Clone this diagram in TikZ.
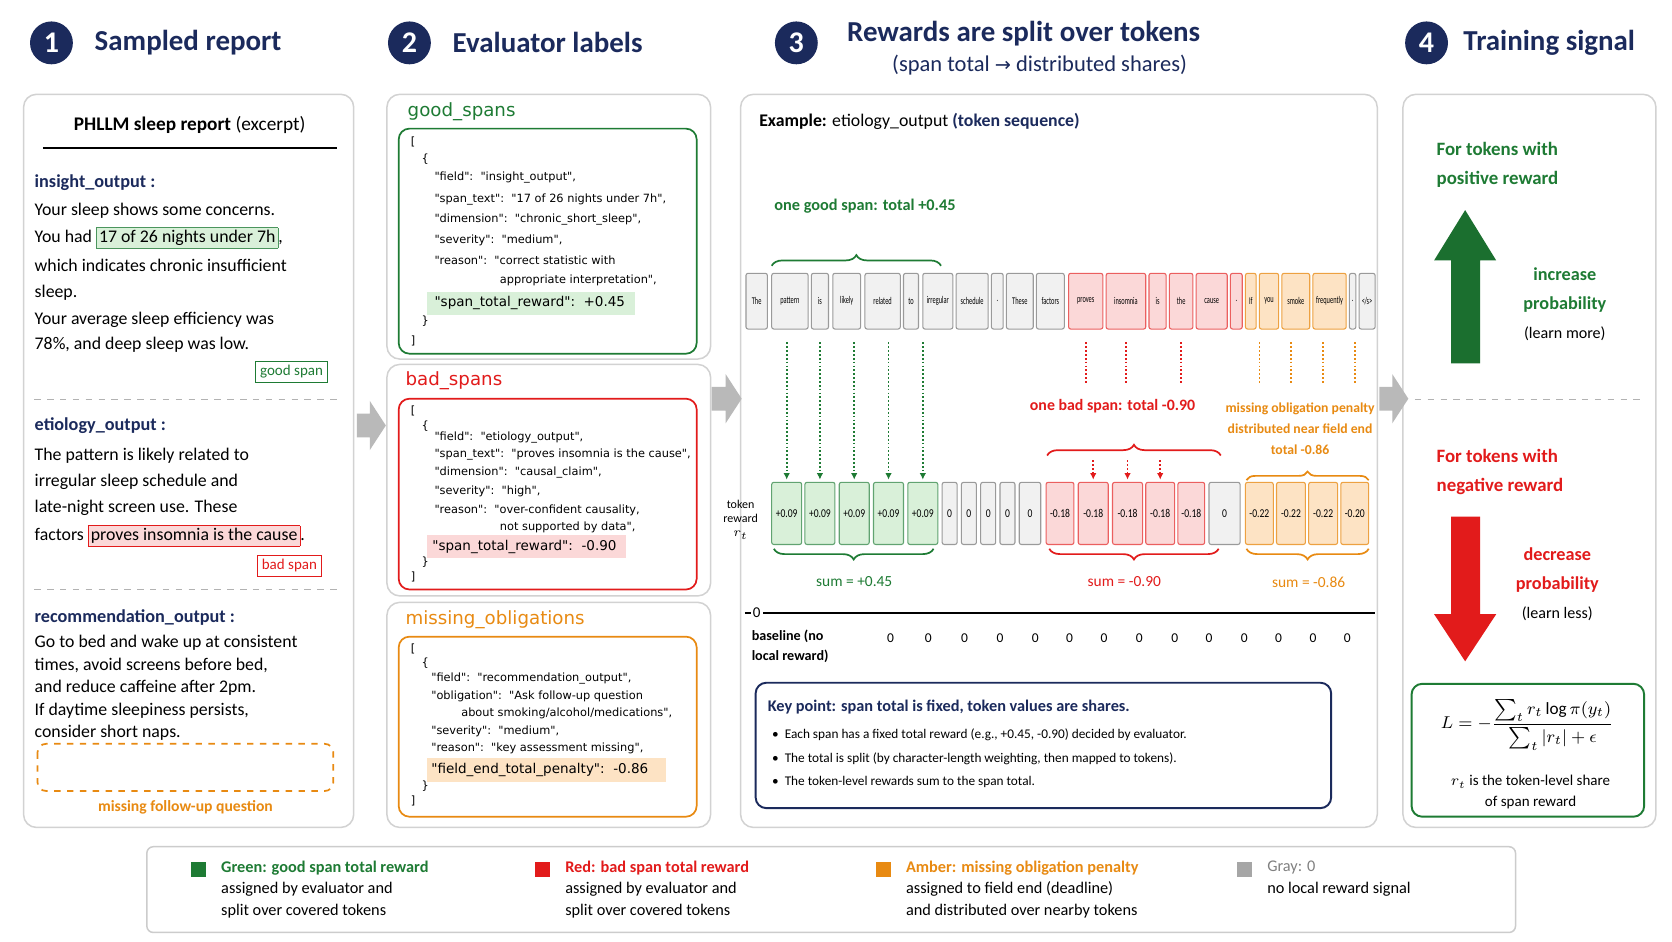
\documentclass[tikz,border=0pt]{standalone}
\usepackage{fontspec}
\setmainfont{Carlito}
\newfontfamily\jsonfont{DejaVu Sans}
\usetikzlibrary{decorations.pathreplacing,arrows.meta}
\definecolor{navy}{HTML}{1B2A5C}
\definecolor{gdk}{HTML}{1E7B34}
\definecolor{gfill}{HTML}{D9F0D9}
\definecolor{rdk}{HTML}{E21B1B}
\definecolor{rfill}{HTML}{FBD8D8}
\definecolor{odk}{HTML}{E88A12}
\definecolor{ofill}{HTML}{FDE3C4}
\definecolor{gryb}{HTML}{9A9A9A}
\definecolor{gryf}{HTML}{F1F1F1}
\setlength{\fboxsep}{1pt}
\begin{document}
\begin{tikzpicture}[x=0.5pt,y=-0.5pt,
 panel/.style={draw=gray!35,rounded corners=6pt,line width=0.7pt,fill=white},
 num/.style={circle,fill=navy,text=white,font=\fontsize{14}{14}\selectfont\bfseries,minimum size=20pt,inner sep=0},
 hdr/.style={anchor=west,inner sep=0,text=navy,font=\fontsize{13.5}{15}\selectfont\bfseries},
 body/.style={anchor=west,inner sep=0,font=\fontsize{8.3}{10}\selectfont},
 lab/.style={anchor=west,inner sep=0,text=navy,font=\fontsize{8.5}{10}\selectfont\bfseries},
 json/.style={anchor=west,inner sep=0,font=\jsonfont\fontsize{5.3}{6}\selectfont},
 jt/.style={anchor=west,inner sep=0,font=\jsonfont\fontsize{8.5}{10}\selectfont},
 tok/.style={draw,rounded corners=1pt,font=\fontsize{4.8}{5}\selectfont,inner sep=0,line width=0.5pt},
 tg/.style={draw=gryb,fill=gryf},
 tr/.style={draw=rdk!70,fill=rfill},
 to/.style={draw=odk!80,fill=ofill},
 tgr/.style={draw=gdk!70,fill=gfill},
 small/.style={inner sep=0,font=\fontsize{6.3}{7.5}\selectfont},
 mid/.style={inner sep=0,font=\fontsize{7.2}{8.5}\selectfont},
 brc/.style={decorate,decoration={brace,amplitude=5pt},line width=0.8pt},
 gar/.style={fill=gray!55,draw=none},
]
\useasboundingbox (0,0) rectangle (1560,878);
\fill[white] (0,0) rectangle (1560,878);
% headers
\node[num] (n1) at (48,40) {1}; \node[hdr] (h1) at (88,40) {Sampled report};
\node[num] (n2) at (382,40) {2}; \node[hdr] (h2) at (422,40) {Evaluator labels};
\node[num] (n3) at (743,40) {3}; \node[hdr] (h3) at (790,31) {Rewards are split over tokens};
\node[inner sep=0,text=navy,font=\fontsize{10.5}{12}\selectfont] (h3b) at (970,61) {(span total {\fontspec{DejaVu Sans}\fontsize{9}{10}\selectfont→} distributed shares)};
\node[num] (n4) at (1331,40) {4}; \node[hdr] (h4) at (1365,40) {Training signal};
% panels
\draw[panel] (22,88) rectangle (330,772);
\draw[panel] (361,88) rectangle (663,335);
\draw[panel] (361,340) rectangle (663,556);
\draw[panel] (361,562) rectangle (663,772);
\draw[panel] (691,88) rectangle (1285,772);
\draw[panel] (1309,88) rectangle (1545,772);
% big gray arrows
\fill[gar] (333,386)--(345,386)--(345,374)--(360,397)--(345,420)--(345,408)--(333,408)--cycle;
\fill[gar] (664,361)--(677,361)--(677,349)--(692,372)--(677,395)--(677,383)--(664,383)--cycle;
\fill[gar] (1287,361)--(1299,361)--(1299,349)--(1314,372)--(1299,395)--(1299,383)--(1287,383)--cycle;
% panel 1
\node[inner sep=0,font=\fontsize{9}{10}\selectfont] (p1t) at (177,117) {\textbf{PHLLM sleep report} (excerpt)};
\draw[line width=0.7pt] (40,138) -- (314,138);
\node[lab] (l1) at (32,170) {insight\_output :};
\node[body] (b1) at (32,197) {Your sleep shows some concerns.};
\node[body] (b2) at (32,222) {You had \fcolorbox{gdk!80}{gfill}{17 of 26 nights under 7h},};
\node[body] (b3) at (32,248) {which indicates chronic insufficient};
\node[body] (b4) at (32,273) {sleep.};
\node[body] (b5) at (32,298) {Your average sleep efficiency was};
\node[body] (b6) at (32,322) {78\%, and deep sleep was low.};
\node[draw=gdk,text=gdk,inner sep=2pt,font=\fontsize{7}{8}\selectfont] (gs) at (272,347) {good span};
\draw[gray!60,dashed] (32,373) -- (318,373);
\node[lab] (l2) at (32,397) {etiology\_output :};
\node[body] (b7) at (32,425) {The pattern is likely related to};
\node[body] (b8) at (32,450) {irregular sleep schedule and};
\node[body] (b9) at (32,474) {late-night screen use. These};
\node[body] (b10) at (32,500) {factors \fcolorbox{rdk}{rfill}{proves insomnia is the cause}.};
\node[draw=rdk,text=rdk,inner sep=2pt,font=\fontsize{7}{8}\selectfont] (bs) at (270,528) {bad span};
\draw[gray!60,dashed] (32,550) -- (318,550);
\node[lab] (l3) at (32,576) {recommendation\_output :};
\node[body] (b11) at (32,600) {Go to bed and wake up at consistent};
\node[body] (b12) at (32,621) {times, avoid screens before bed,};
\node[body] (b13) at (32,642) {and reduce caffeine after 2pm.};
\node[body] (b14) at (32,663) {If daytime sleepiness persists,};
\node[body] (b15) at (32,684) {consider short naps.};
\draw[odk,dashed,rounded corners=4pt,line width=0.8pt] (35,694) rectangle (311,738);
\node[inner sep=0,text=odk,font=\fontsize{7.3}{8}\selectfont\bfseries] (mf) at (173,753) {missing follow-up question};
% panel 2
\node[jt,text=gdk] (gt) at (380,104) {good\_spans};
\node[jt,text=rdk] (rt) at (378,355) {bad\_spans};
\node[jt,text=odk] (ot) at (378,578) {missing\_obligations};
\draw[gdk,rounded corners=5pt,line width=0.8pt] (372,120) rectangle (650,330);
\draw[rdk,rounded corners=5pt,line width=0.8pt] (372,372) rectangle (650,550);
\draw[odk,rounded corners=5pt,line width=0.8pt] (372,594) rectangle (650,762);
\fill[gfill] (398,272) rectangle (592,294);
\fill[rfill] (398,499) rectangle (584,521);
\fill[ofill] (398,707) rectangle (621,730);
\foreach \x/\y/\t [count=\i] in {
 383/132/{[},393/148/{\{},405/166/{"field":\ \ "insight\_output",},
 405/186/{"span\_text":\ \ "17 of 26 nights under 7h",},
 405/205/{"dimension":\ \ "chronic\_short\_sleep",},
 405/224/{"severity":\ \ "medium",},
 405/243/{"reason":\ \ "correct statistic with},
 466/262/{appropriate interpretation",},
 393/300/{\}},383/318/{]},
 383/383/{[},393/398/{\{},405/408/{"field":\ \ "etiology\_output",},
 405/424/{"span\_text":\ \ "proves insomnia is the cause",},
 405/441/{"dimension":\ \ "causal\_claim",},
 405/458/{"severity":\ \ "high",},
 405/476/{"reason":\ \ "over-confident causality,},
 466/492/{not supported by data",},
 393/524/{\}},383/538/{]},
 383/605/{[},393/619/{\{},402/633/{"field":\ \ "recommendation\_output",},
 402/650/{"obligation":\ \ "Ask follow-up question},
 430/666/{about smoking/alcohol/medications",},
 402/682/{"severity":\ \ "medium",},
 402/698/{"reason":\ \ "key assessment missing",},
 393/733/{\}},383/747/{]}}
 \node[json] (j\i) at (\x,\y) {\t};
\node[json,font=\jsonfont\fontsize{6.3}{7}\selectfont] (jg) at (405,283) {"span\_total\_reward":\ \ +0.45};
\node[json,font=\jsonfont\fontsize{6.3}{7}\selectfont] (jr) at (403,510) {"span\_total\_reward":\ \ -0.90};
\node[json,font=\jsonfont\fontsize{6.3}{7}\selectfont] (jo) at (402,718) {"field\_end\_total\_penalty":\ \ -0.86};
% panel 3
\node[anchor=west,inner sep=0,font=\fontsize{8.3}{10}\selectfont] (ex) at (708,113) {\textbf{Example:} etiology\_output \textcolor{navy}{\textbf{(token sequence)}}};
\node[mid,text=gdk,font=\fontsize{7.6}{9}\selectfont\bfseries] (gsl) at (807,192) {one good span: total +0.45};
\foreach \a/\b/\s/\t [count=\i] in {
 696/716/tg/The,720/754/tg/pattern,757/773/tg/is,777/803/tg/likely,807/840/tg/related,
 843/857/tg/to,861/889/tg/irregular,892/922/tg/schedule,925/936/tg/.,939/964/tg/These,
 967/993/tg/factors,997/1029/tr/proves,1032/1069/tr/insomnia,1072/1088/tr/is,1091/1113/tr/the,
 1116/1145/tr/cause,1148/1159/tr/.,1162/1172/to/If,1175/1193/to/you,1196/1222/to/smoke,
 1225/1256/to/frequently,1259/1265/tg/.,1268/1283/tg/{\textless{}\kern-0.3pt/\kern-0.3pt{}s\textgreater}}
 \node[tok,\s,minimum width={(\b-\a)*0.5pt},minimum height=26pt] (t\i) at ({(\a+\b)/2},281) {\scalebox{0.62}[1]{\t}};
\draw[brc,gdk] (720,248) -- (878,248);
\foreach \a/\b/\s/\t [count=\i] in {
 720/748/tgr/+0.09,751/779/tgr/+0.09,783/811/tgr/+0.09,815/843/tgr/+0.09,847/875/tgr/+0.09,
 879/893/tg/0,897/911/tg/0,915/929/tg/0,933/947/tg/0,951/971/tg/0,
 976/1002/tr/-0.18,1006/1034/tr/-0.18,1038/1066/tr/-0.18,1069/1096/tr/-0.18,1099/1124/tr/-0.18,
 1128/1157/tg/0,1162/1188/to/-0.22,1191/1218/to/-0.22,1221/1248/to/-0.22,1251/1277/to/-0.20}
 \node[tok,\s,font=\fontsize{5.6}{6}\selectfont,minimum width={(\b-\a)*0.5pt},minimum height=29pt] (r\i) at ({(\a+\b)/2},479) {\scalebox{0.8}[1]{\t}};
\foreach \i in {1,...,5}
 \draw[gdk,densely dotted,line width=0.8pt,-{Latex[length=3pt,width=3pt]}] (r\i.north |- t1.south) ++(0,12) -- ([yshift=1pt]r\i.north);
\foreach \i in {12,13,15}
 \draw[rdk,densely dotted,line width=0.8pt] (t\i.south) ++(0,12) -- ++(0,38);
\foreach \i in {17,18,19,20}
 \draw[odk,densely dotted,line width=0.8pt] (r\i.north |- t1.south) ++(0,12) -- ++(0,38);
\node[mid,text=rdk,font=\fontsize{7.4}{9}\selectfont\bfseries] (bsl) at (1038,379) {one bad span: total -0.90};
\node[mid,text=odk,font=\fontsize{6.4}{8}\selectfont\bfseries,align=center] (msl) at (1213,400) {missing obligation penalty\\[2pt]distributed near field end\\[2pt]total -0.86};
\draw[brc,rdk] (977,425) -- (1139,425);
\draw[brc,odk,decoration={amplitude=4pt}] (1163,448) -- (1277,448);
\foreach \i in {12,13,14}
 \draw[rdk,densely dotted,line width=0.8pt,-{Latex[length=3pt,width=3pt]}] (r\i.north) ++(0,-20) -- ([yshift=1pt]r\i.north);
\node[small,align=center,font=\fontsize{5.6}{6.5}\selectfont] (trl) at (691,485) {token\\reward\\$r_t$};
\draw[brc,gdk,decoration={mirror}] (722,512) -- (871,512);
\draw[brc,rdk,decoration={mirror}] (979,512) -- (1137,512);
\draw[brc,odk,decoration={mirror}] (1163,512) -- (1277,512);
\node[mid,text=gdk] (s1) at (797,543) {sum = +0.45};
\node[mid,text=rdk] (s2) at (1049,543) {sum = -0.90};
\node[mid,text=odk] (s3) at (1221,543) {sum = -0.86};
\draw[line width=0.9pt] (695,572) -- (1283,572);
\node[fill=white,inner sep=1pt,font=\fontsize{7}{8}\selectfont] (z0) at (706,572) {0};
\node[anchor=west,inner sep=0,align=left,font=\fontsize{6.6}{9}\selectfont\bfseries] (bl) at (701,603) {baseline (no\\local reward)};
\foreach \x [count=\i] in {831,866,900,933,966,998,1030,1063,1096,1128,1161,1193,1225,1257}
 \node[small] (z\i) at (\x,595) {0};
\draw[navy,rounded corners=5pt,line width=0.9pt] (705,637) rectangle (1242,754);
\node[anchor=west,inner sep=0,text=navy,font=\fontsize{7.6}{9}\selectfont\bfseries] (kp) at (716,660) {Key point: span total is fixed, token values are shares.};
\node[anchor=west,inner sep=0,font=\fontsize{6.2}{8}\selectfont] (k1) at (720,686) {\textbullet\ \ Each span has a fixed total reward (e.g., +0.45, -0.90) decided by evaluator.};
\node[anchor=west,inner sep=0,font=\fontsize{6.2}{8}\selectfont] (k2) at (720,708) {\textbullet\ \ The total is split (by character-length weighting, then mapped to tokens).};
\node[anchor=west,inner sep=0,font=\fontsize{6.2}{8}\selectfont] (k3) at (720,730) {\textbullet\ \ The token-level rewards sum to the span total.};
% panel 4
\node[anchor=west,inner sep=0,align=left,text=gdk,font=\fontsize{8.8}{13.5}\selectfont\bfseries] (pos) at (1340,154) {For tokens with\\positive reward};
\fill[gdk!90!black] (1354,339)--(1354,243)--(1338,243)--(1367,196)--(1396,243)--(1381,243)--(1381,339)--cycle;
\node[align=center,inner sep=0,font=\fontsize{8.5}{13.5}\selectfont] (inc) at (1460,284) {\textcolor{gdk}{\textbf{increase}}\\\textcolor{gdk}{\textbf{probability}}\\{\fontsize{7.5}{9}\selectfont (learn more)}};
\draw[gray!60,dashed] (1320,373) -- (1535,373);
\node[anchor=west,inner sep=0,align=left,text=rdk,font=\fontsize{8.8}{13.5}\selectfont\bfseries] (neg) at (1340,440) {For tokens with\\negative reward};
\fill[rdk] (1354,482)--(1381,482)--(1381,573)--(1396,573)--(1367,617)--(1338,573)--(1354,573)--cycle;
\node[align=center,inner sep=0,font=\fontsize{8.5}{13.5}\selectfont] (dec) at (1453,545) {\textcolor{rdk}{\textbf{decrease}}\\\textcolor{rdk}{\textbf{probability}}\\{\fontsize{7.5}{9}\selectfont (learn less)}};
\draw[gdk,rounded corners=5pt,line width=0.9pt] (1317,638) rectangle (1534,762);
\node[inner sep=0,font=\fontsize{8}{10}\selectfont] (fm) at (1425,676) {$\displaystyle L=-\frac{\sum_t r_t\log\pi(y_t)}{\sum_t |r_t|+\epsilon}$};
\node[align=center,inner sep=0,font=\fontsize{7}{9.5}\selectfont] (fx) at (1428,739) {$r_t$ is the token-level share\\of span reward};
% legend
\draw[gray!40,rounded corners=3pt,line width=0.7pt] (137,790) rectangle (1414,870);
\fill[gdk] (178,804) rectangle (192,818);
\fill[rdk] (499,804) rectangle (513,818);
\fill[odk] (817,804) rectangle (831,818);
\fill[gray!70] (1154,804) rectangle (1168,818);
\node[anchor=north west,inner sep=0,align=left,font=\fontsize{7.6}{10}\selectfont] (lg1) at (206,803) {\textcolor{gdk}{\textbf{Green: good span total reward}}\\assigned by evaluator and\\split over covered tokens};
\node[anchor=north west,inner sep=0,align=left,font=\fontsize{7.6}{10}\selectfont] (lg2) at (527,803) {\textcolor{rdk}{\textbf{Red: bad span total reward}}\\assigned by evaluator and\\split over covered tokens};
\node[anchor=north west,inner sep=0,align=left,font=\fontsize{7.6}{10}\selectfont] (lg3) at (845,803) {\textcolor{odk}{\textbf{Amber: missing obligation penalty}}\\assigned to field end (deadline)\\and distributed over nearby tokens};
\node[anchor=north west,inner sep=0,align=left,font=\fontsize{7.6}{10}\selectfont] (lg4) at (1182,803) {\textcolor{gray}{Gray: 0}\\no local reward signal};
\end{tikzpicture}
\end{document}
